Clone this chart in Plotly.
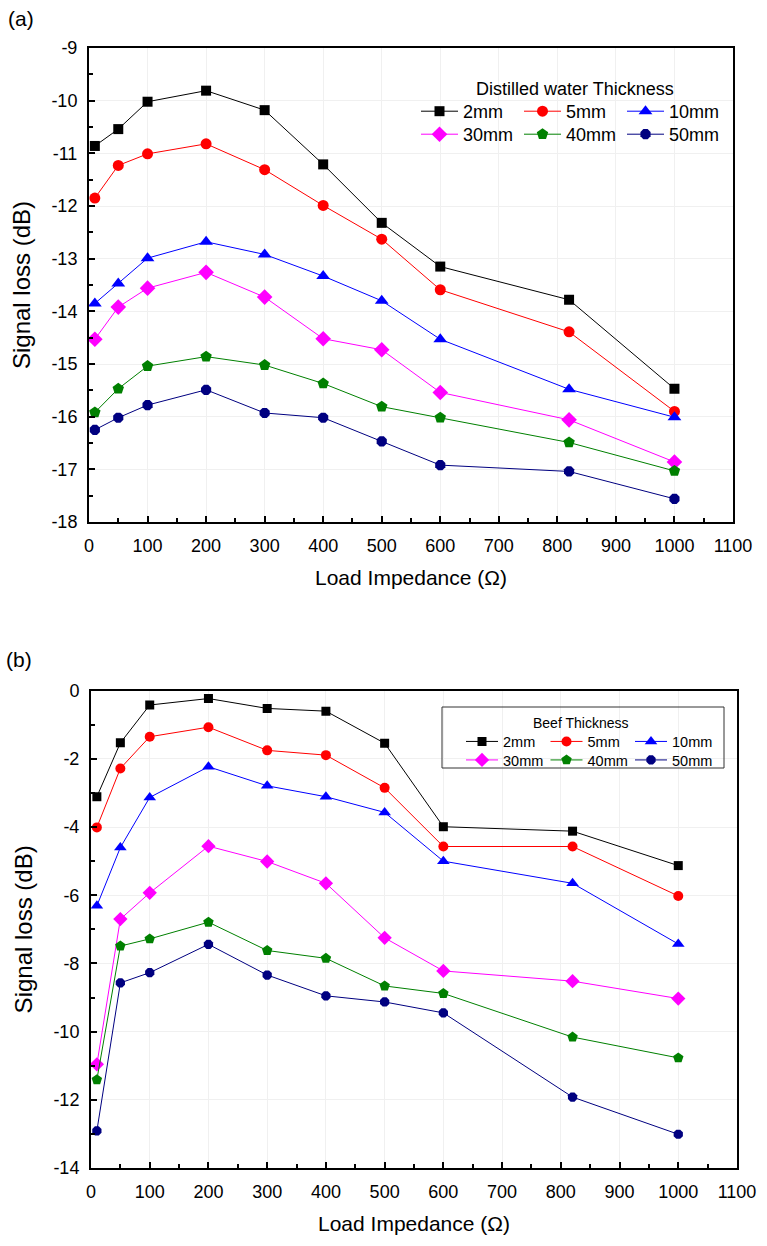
import plotly.graph_objects as go

# ---------------- data ----------------
impedance = [10, 50, 100, 200, 300, 400, 500, 600, 820, 1000]
thickness_labels = ["2mm", "5mm", "10mm", "30mm", "40mm", "50mm"]

water_2mm = [-10.86, -10.54, -10.02, -9.81, -10.18, -11.21, -12.32, -13.15, -13.78, -15.47]
water_5mm = [-11.85, -11.23, -11.01, -10.82, -11.31, -11.99, -12.63, -13.59, -14.39, -15.90]
water_10mm = [-13.85, -13.47, -12.99, -12.68, -12.92, -13.33, -13.80, -14.53, -15.48, -16.01]
water_30mm = [-14.53, -13.92, -13.56, -13.26, -13.73, -14.52, -14.73, -15.54, -16.06, -16.86]
water_40mm = [-15.92, -15.47, -15.04, -14.86, -15.02, -15.37, -15.81, -16.02, -16.49, -17.03]
water_50mm = [-16.25, -16.02, -15.78, -15.49, -15.93, -16.02, -16.47, -16.92, -17.04, -17.56]

beef_2mm = [-3.11, -1.53, -0.42, -0.23, -0.52, -0.60, -1.54, -3.99, -4.12, -5.13]
beef_5mm = [-4.01, -2.28, -1.35, -1.07, -1.75, -1.89, -2.85, -4.57, -4.57, -6.02]
beef_10mm = [-6.31, -4.60, -3.13, -2.23, -2.79, -3.11, -3.57, -5.00, -5.65, -7.43]
beef_30mm = [-10.96, -6.70, -5.93, -4.56, -5.01, -5.65, -7.25, -8.22, -8.52, -9.03]
beef_40mm = [-11.41, -7.49, -7.28, -6.79, -7.62, -7.85, -8.66, -8.88, -10.16, -10.77]
beef_50mm = [-12.91, -8.57, -8.27, -7.44, -8.34, -8.95, -9.13, -9.45, -11.92, -13.01]

water_series = [water_2mm, water_5mm, water_10mm, water_30mm, water_40mm, water_50mm]
beef_series = [beef_2mm, beef_5mm, beef_10mm, beef_30mm, beef_40mm, beef_50mm]

x_ticks = [0, 100, 200, 300, 400, 500, 600, 700, 800, 900, 1000, 1100]
x_tick_labels = ["0", "100", "200", "300", "400", "500", "600", "700", "800", "900", "1000", "1100"]
water_y_ticks = [-18, -17, -16, -15, -14, -13, -12, -11, -10, -9]
water_y_labels = ["-18", "-17", "-16", "-15", "-14", "-13", "-12", "-11", "-10", "-9"]
beef_y_ticks = [-14, -12, -10, -8, -6, -4, -2, 0]
beef_y_labels = ["-14", "-12", "-10", "-8", "-6", "-4", "-2", "0"]

# ---------------- styles ----------------
colors = ["#000000", "#FF0000", "#0000FF", "#FF00FF", "#008000", "#000080"]
symbols = ["square", "circle", "triangle-up", "diamond", "pentagon", "octagon"]
sizes = [10, 11, 12, 12, 12, 11]

FONT = "Liberation Sans Narrow, Arial Narrow, Liberation Sans, Arial, sans-serif"

# legends: row 1 (first three) / row 2 (last three)
water_legends = ["legend", "legend", "legend", "legend3", "legend3", "legend3"]
beef_legends = ["legend2", "legend2", "legend2", "legend4", "legend4", "legend4"]

fig = go.Figure()

for lab, ys, c, s, sz, lg in zip(thickness_labels, water_series, colors, symbols, sizes, water_legends):
    fig.add_trace(go.Scatter(
        x=impedance, y=ys, name=lab, mode="lines+markers",
        line=dict(color=c, width=1),
        marker=dict(symbol=s, size=sz, color=c, line=dict(width=0)),
        xaxis="x", yaxis="y", legend=lg,
    ))

for lab, ys, c, s, sz, lg in zip(thickness_labels, beef_series, colors, symbols, sizes, beef_legends):
    fig.add_trace(go.Scatter(
        x=impedance, y=ys, name=lab, mode="lines+markers",
        line=dict(color=c, width=1),
        marker=dict(symbol=s, size=sz - 1, color=c, line=dict(width=0)),
        xaxis="x2", yaxis="y2", legend=lg,
    ))

L, R, T, B = 89, 30, 48, 78
W, H = 767, 1246
gw, gh = W - L - R, H - T - B


def px_x(p):
    return (p - L) / gw


def px_y(p):
    return 1 - (p - T) / gh


axis_common = dict(
    showline=True, linecolor="black", linewidth=2, mirror=True,
    ticks="inside", ticklen=6, tickwidth=1.5, tickcolor="black",
    showgrid=True, gridcolor="#f0f0f0", gridwidth=1,
    zeroline=False,
    tickfont=dict(family=FONT, size=18, color="black"),
    ticklabelstandoff=6,
)

x_title_font = dict(family=FONT, size=21, color="black")
y_title_font = dict(family=FONT, size=24, color="black")

xaxis_common = dict(axis_common, range=[0, 1100], tickmode="array",
                    tickvals=x_ticks, ticktext=x_tick_labels,
                    minor=dict(dtick=50, ticks="inside", ticklen=4, tickcolor="black", showgrid=False),
                    title=dict(text="Load Impedance (Ω)", font=x_title_font, standoff=16))

legend_a = dict(
    orientation="h", xanchor="left", yanchor="top",
    font=dict(family=FONT, size=18, color="black"),
    itemwidth=37, entrywidth=51, entrywidthmode="pixels",
    bgcolor="rgba(0,0,0,0)", borderwidth=0, tracegroupgap=0,
)
legend_b = dict(
    orientation="h", xanchor="left", yanchor="top",
    font=dict(family=FONT, size=14.5, color="black"),
    itemwidth=32, entrywidth=37.5, entrywidthmode="pixels",
    bgcolor="rgba(0,0,0,0)", borderwidth=0, tracegroupgap=0,
)

fig.update_layout(
    width=W, height=H,
    margin=dict(l=L, r=R, t=T, b=B),
    paper_bgcolor="white", plot_bgcolor="white",
    font=dict(family=FONT, color="black"),
    xaxis=dict(xaxis_common, domain=[0, px_x(733)], anchor="y"),
    yaxis=dict(axis_common, domain=[px_y(522), 1], anchor="x", range=[-18, -9],
               tickmode="array", tickvals=water_y_ticks, ticktext=water_y_labels,
               minor=dict(dtick=0.5, ticks="inside", ticklen=4, tickcolor="black", showgrid=False),
               title=dict(text="Signal loss (dB)", font=y_title_font, standoff=14)),
    xaxis2=dict(xaxis_common, domain=[px_x(91), 1], anchor="y2"),
    yaxis2=dict(axis_common, domain=[0, px_y(690.7)], anchor="x2", range=[-14, 0],
                tickmode="array", tickvals=beef_y_ticks, ticktext=beef_y_labels,
                minor=dict(dtick=1, ticks="inside", ticklen=4, tickcolor="black", showgrid=False),
                title=dict(text="Signal loss (dB)", font=y_title_font, standoff=14)),
    legend=dict(legend_a, x=px_x(416), y=px_y(93)),
    legend3=dict(legend_a, x=px_x(416), y=px_y(116)),
    legend2=dict(legend_b, x=px_x(461), y=px_y(725.5)),
    legend4=dict(legend_b, x=px_x(461), y=px_y(744)),
    shapes=[
        dict(type="rect", xref="paper", yref="paper",
             x0=px_x(442), x1=px_x(724), y0=px_y(768), y1=px_y(707),
             line=dict(color="#333333", width=1), fillcolor="rgba(0,0,0,0)", layer="above"),
    ],
    annotations=[
        dict(text="(a)", x=px_x(6), y=px_y(18), xref="paper", yref="paper",
             xanchor="left", yanchor="middle", showarrow=False,
             font=dict(family=FONT, size=21, color="black")),
        dict(text="(b)", x=px_x(4), y=px_y(660), xref="paper", yref="paper",
             xanchor="left", yanchor="middle", showarrow=False,
             font=dict(family=FONT, size=21, color="black")),
        dict(text="Distilled water Thickness", x=px_x(575), y=px_y(89), xref="paper", yref="paper",
             xanchor="center", yanchor="middle", showarrow=False,
             font=dict(family=FONT, size=18, color="black")),
        dict(text="Beef Thickness", x=px_x(580), y=px_y(722.5), xref="paper", yref="paper",
             xanchor="center", yanchor="middle", showarrow=False,
             font=dict(family=FONT, size=14, color="black")),
    ],
)

fig.write_html("out.html")
